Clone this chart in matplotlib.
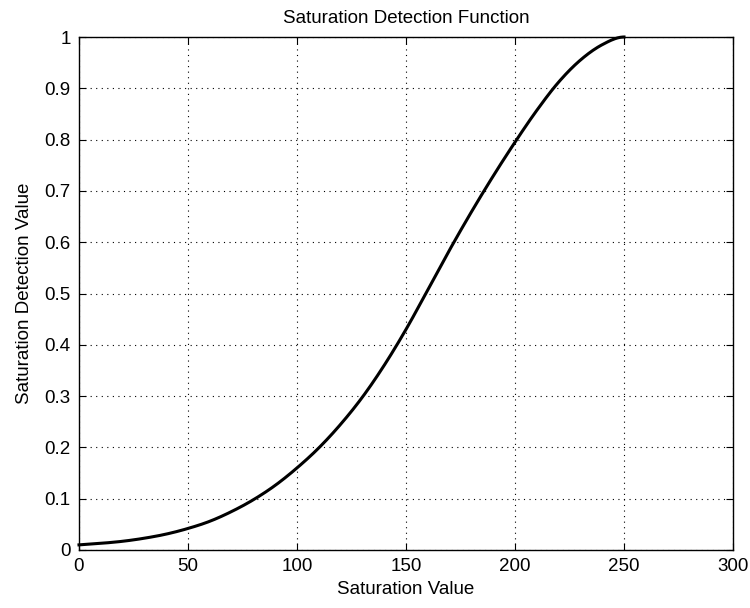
import matplotlib
matplotlib.use("Agg")
import matplotlib.pyplot as plt
import numpy as np

sat_value = [0, 10, 20, 30, 40, 50, 60, 70, 80, 90, 100, 110, 120, 130, 140, 150,
             160, 170, 180, 190, 200, 210, 220, 230, 240, 250]
detection = [0.010, 0.013, 0.017, 0.023, 0.031, 0.042, 0.056, 0.075, 0.098, 0.126,
             0.160, 0.199, 0.245, 0.298, 0.360, 0.430, 0.507, 0.585, 0.659, 0.729,
             0.795, 0.857, 0.912, 0.955, 0.985, 1.000]
x_ticks = [0, 50, 100, 150, 200, 250, 300]
y_ticks = [0, 0.1, 0.2, 0.3, 0.4, 0.5, 0.6, 0.7, 0.8, 0.9, 1]
y_tick_labels = ["0", "0.1", "0.2", "0.3", "0.4", "0.5", "0.6", "0.7", "0.8", "0.9", "1"]

plt.rcParams['font.family'] = ['Liberation Sans', 'DejaVu Sans']
FS = 13.5

fig = plt.figure(figsize=(7.5, 6.08), dpi=100)
ax = fig.add_axes([79/750, 1 - 550/608, (733-79)/750, (550-37)/608])

# smooth monotone curve through the read points
xs = np.array(sat_value, dtype=float)
ys = np.array(detection, dtype=float)
xf = np.linspace(xs[0], xs[-1], 600)
h = np.diff(xs)
d = np.diff(ys) / h
m = np.zeros_like(ys)
m[0] = d[0]; m[-1] = 0.0
for i in range(1, len(xs) - 1):
    m[i] = 0.5 * (d[i-1] + d[i])
idx = np.clip(np.searchsorted(xs, xf) - 1, 0, len(xs) - 2)
t = (xf - xs[idx]) / h[idx]
h00 = 2*t**3 - 3*t**2 + 1; h10 = t**3 - 2*t**2 + t
h01 = -2*t**3 + 3*t**2; h11 = t**3 - t**2
yf = h00*ys[idx] + h10*h[idx]*m[idx] + h01*ys[idx+1] + h11*h[idx]*m[idx+1]

ax.plot(xf, yf, color='black', linewidth=2.2, clip_on=False)

ax.set_xlim(0, 300)
ax.set_ylim(0, 1)
ax.set_xticks(x_ticks)
ax.set_yticks(y_ticks)
ax.set_yticklabels(y_tick_labels)
ax.grid(True, color='black', linestyle=(0, (1, 4)), linewidth=0.8)
ax.tick_params(direction='in', top=True, right=True, length=5, width=0.8,
               labelsize=FS, pad=6)
for s in ax.spines.values():
    s.set_linewidth(1.0)

ax.set_title("Saturation Detection Function", fontsize=FS, pad=10)
ax.set_xlabel("Saturation Value", fontsize=FS, labelpad=4)
ax.set_ylabel("Saturation Detection Value", fontsize=FS, labelpad=8)

fig.savefig("out.png", dpi=100)
